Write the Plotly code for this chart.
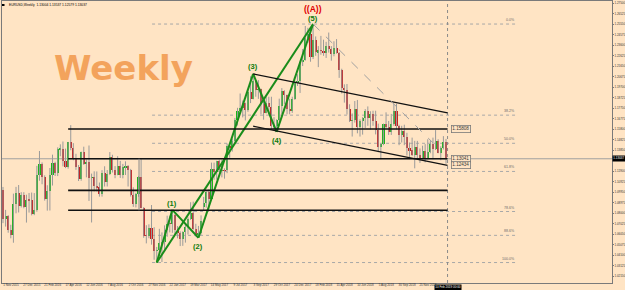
import plotly.graph_objects as go

# ---------------- data (weekly EURUSD, week index 0 = 1 Nov 2015) ----------------
opens = [1.1015,1.0740,1.0772,1.0646,1.0593,1.0886,1.0990,1.0866,1.0968,
         1.0860,1.0925,1.0917,1.0795,1.0830,1.1155,1.1255,1.1130,1.0930,1.1004,
         1.1152,1.1268,1.1167,1.1390,1.1398,1.1283,1.1226,1.1455,1.1403,1.1307,
         1.1225,1.1114,1.1367,1.1252,1.1276,1.1128,1.1134,1.1052,1.1039,1.0977,
         1.1174,1.1087,1.1161,1.1324,1.1198,1.1155,1.1234,1.1153,1.1226,1.1240,
         1.1198,1.0970,1.0885,1.0978,1.1137,1.0850,1.0590,1.0588,1.0665,1.0563,
         1.0450,1.0452,
         1.0520,1.0530,1.0640,1.0700,1.0698,1.0780,1.0640,1.0615,1.0560,1.0620,
         1.0670,1.0740,1.0800,1.0650,1.0593,1.0615,1.0860,1.0895,1.0998,1.0930,
         1.1205,1.1180,1.1280,1.1195,1.1198,1.1195,1.1425,1.1400,1.1470,1.1665,
         1.1750,1.1773,1.1821,1.1760,1.1923,1.1860,1.2030,1.1945,1.1950,1.1810,
         1.1730,1.1820,1.1780,1.1605,1.1610,1.1663,1.1790,1.1932,1.1895,1.1770,
         1.1750,1.1860,1.2005,
         1.2030,1.2200,1.2220,1.2425,1.2460,1.2250,1.2405,1.2295,1.2310,1.2308,
         1.2285,1.2355,1.2320,1.2280,1.2330,1.2290,1.2130,1.1960,1.1940,1.1765,
         1.1655,1.1660,1.1770,1.1600,1.1655,1.1685,1.1745,1.1685,1.1720,1.1655,
         1.1567,1.1410,1.1440,1.1625,1.1600,1.1555,1.1625,1.1745,1.1605,1.1525,
         1.1560,1.1510,1.1400,1.1385,1.1335,1.1415,1.1335,1.1315,1.1380,1.1305,
         1.1370,1.1440,1.1395,1.1470,1.1360,1.1405,1.1455]
highs = [1.1042,1.0829,1.0780,1.0691,1.0980,1.1043,1.1060,1.0993,1.0993,
         1.0970,1.0986,1.0990,1.0985,1.1238,1.1376,1.1270,1.1150,1.1058,1.1218,
         1.1342,1.1276,1.1410,1.1438,1.1464,1.1398,1.1460,1.1616,1.1449,1.1350,
         1.1246,1.1370,1.1416,1.1298,1.1427,1.1166,1.1187,1.1186,1.1083,1.1198,
         1.1234,1.1199,1.1366,1.1341,1.1236,1.1328,1.1284,1.1256,1.1280,1.1245,
         1.1210,1.1039,1.0987,1.1142,1.1300,1.0855,1.0687,1.0695,1.0874,1.0668,
         1.0485,1.0653,
         1.0620,1.0685,1.0775,1.0775,1.0829,1.0790,1.0679,1.0630,1.0630,1.0700,
         1.0760,1.0900,1.0906,1.0700,1.0680,1.0778,1.0950,1.1000,1.1022,1.1268,
         1.1268,1.1285,1.1296,1.1296,1.1215,1.1445,1.1445,1.1490,1.1683,1.1777,
         1.1910,1.1845,1.1825,1.1941,1.2070,1.2092,1.2035,1.2034,1.1955,1.1835,
         1.1880,1.1880,1.1880,1.1690,1.1670,1.1862,1.1960,1.1940,1.1900,1.1862,
         1.1880,1.2030,1.2089,
         1.2215,1.2323,1.2537,1.2520,1.2510,1.2555,1.2440,1.2350,1.2445,1.2410,
         1.2390,1.2476,1.2350,1.2395,1.2415,1.2295,1.2140,1.1995,1.1998,1.1810,
         1.1725,1.1840,1.1850,1.1670,1.1690,1.1765,1.1790,1.1745,1.1750,1.1750,
         1.1630,1.1445,1.1630,1.1735,1.1655,1.1720,1.1815,1.1815,1.1620,1.1610,
         1.1620,1.1545,1.1455,1.1500,1.1470,1.1470,1.1400,1.1425,1.1440,1.1485,
         1.1475,1.1500,1.1570,1.1485,1.1420,1.1514,1.1488]
lows = [1.0706,1.0674,1.0617,1.0565,1.0524,1.0797,1.0805,1.0851,1.0844,
        1.0711,1.0804,1.0778,1.0780,1.0812,1.1100,1.1067,1.0915,1.0822,1.0823,
        1.1055,1.1144,1.1143,1.1327,1.1233,1.1217,1.1212,1.1383,1.1290,1.1201,
        1.1097,1.1100,1.1247,1.1131,1.0912,1.0712,1.1001,1.1001,1.0952,1.0952,
        1.1046,1.1046,1.1152,1.1176,1.1123,1.1151,1.1126,1.1122,1.1153,1.1046,
        1.0953,1.0857,1.0852,1.0951,1.0844,1.0570,1.0518,1.0566,1.0506,1.0366,
        1.0340,1.0398,
        1.0345,1.0454,1.0579,1.0620,1.0616,1.0602,1.0565,1.0493,1.0495,1.0525,
        1.0600,1.0736,1.0645,1.0582,1.0570,1.0600,1.0820,1.0850,1.0838,1.0920,
        1.1109,1.1110,1.1190,1.1131,1.1119,1.1170,1.1313,1.1370,1.1440,1.1612,
        1.1730,1.1688,1.1660,1.1740,1.1821,1.1855,1.1880,1.1860,1.1717,1.1667,
        1.1725,1.1730,1.1575,1.1575,1.1553,1.1652,1.1717,1.1810,1.1717,1.1717,
        1.1730,1.1850,1.1980,
        1.1915,1.2165,1.2215,1.2380,1.2205,1.2230,1.2260,1.2155,1.2270,1.2260,
        1.2240,1.2290,1.2215,1.2255,1.2280,1.2055,1.1910,1.1825,1.1715,1.1645,
        1.1510,1.1640,1.1540,1.1510,1.1528,1.1590,1.1610,1.1575,1.1610,1.1530,
        1.1365,1.1300,1.1430,1.1585,1.1525,1.1525,1.1610,1.1575,1.1430,1.1455,
        1.1430,1.1335,1.1300,1.1330,1.1215,1.1305,1.1265,1.1300,1.1270,1.1300,
        1.1355,1.1300,1.1385,1.1355,1.1290,1.1390,1.1258]
closes = [1.0740,1.0772,1.0646,1.0593,1.0886,1.0990,1.0866,1.0968,1.0860,
          1.0925,1.0917,1.0795,1.0830,1.1155,1.1255,1.1130,1.0930,1.1004,1.1152,
          1.1268,1.1167,1.1390,1.1398,1.1283,1.1226,1.1455,1.1403,1.1307,1.1225,
          1.1114,1.1367,1.1252,1.1276,1.1128,1.1134,1.1052,1.1039,1.0977,1.1174,
          1.1087,1.1161,1.1324,1.1198,1.1155,1.1234,1.1153,1.1226,1.1240,1.1198,
          1.0970,1.0885,1.0978,1.1137,1.0850,1.0590,1.0588,1.0665,1.0563,1.0450,
          1.0452,1.0520,
          1.0530,1.0640,1.0700,1.0698,1.0780,1.0640,1.0615,1.0560,1.0620,1.0670,
          1.0740,1.0800,1.0650,1.0593,1.0615,1.0727,1.0895,1.0998,1.0930,1.1205,
          1.1180,1.1280,1.1195,1.1198,1.1195,1.1425,1.1400,1.1470,1.1665,1.1750,
          1.1773,1.1821,1.1760,1.1923,1.1860,1.2030,1.1945,1.1950,1.1810,1.1730,
          1.1820,1.1780,1.1605,1.1610,1.1663,1.1790,1.1932,1.1895,1.1770,1.1750,
          1.1860,1.2005,1.2030,
          1.2200,1.2220,1.2425,1.2460,1.2250,1.2405,1.2295,1.2310,1.2308,1.2285,
          1.2355,1.2320,1.2280,1.2330,1.2290,1.2130,1.1960,1.1940,1.1765,1.1655,
          1.1660,1.1770,1.1600,1.1655,1.1685,1.1745,1.1685,1.1720,1.1655,1.1567,
          1.1410,1.1440,1.1625,1.1600,1.1555,1.1625,1.1745,1.1605,1.1525,1.1560,
          1.1510,1.1400,1.1385,1.1335,1.1415,1.1335,1.1315,1.1380,1.1305,1.1370,
          1.1440,1.1395,1.1470,1.1360,1.1405,1.1455,1.1304]
week_index = list(range(len(closes)))

x_tick_index = [0, 8, 16, 24, 32, 40, 48, 56, 64, 72, 80, 88, 96, 104, 112, 120, 128, 136, 144, 152, 160]
x_tick_labels = ["1 Nov 2015", "27 Dec 2015", "21 Feb 2016", "17 Apr 2016", "12 Jun 2016",
                 "7 Aug 2016", "2 Oct 2016", "27 Nov 2016", "22 Jan 2017", "19 Mar 2017",
                 "14 May 2017", "9 Jul 2017", "3 Sep 2017", "29 Oct 2017", "24 Dec 2017",
                 "18 Feb 2018", "15 Apr 2018", "10 Jun 2018", "5 Aug 2018", "30 Sep 2018",
                 "25 Nov 2018"]
# the tick hidden under the current-price box is left out
y_tick_values = [1.27500, 1.26525, 1.25550, 1.24575, 1.23600, 1.22625, 1.21650, 1.20675,
                 1.19700, 1.18725, 1.17750, 1.16775, 1.15800, 1.14825, 1.13850,
                 1.11900, 1.10925, 1.09950, 1.08975, 1.08000, 1.07025, 1.06050, 1.05075,
                 1.04100, 1.03125, 1.02150]
y_tick_labels = ["%.5f" % v for v in y_tick_values]

# Elliott wave pivots
wave_index = [59, 65, 75, 96, 105, 119]
wave_price = [1.0340, 1.0829, 1.0570, 1.2092, 1.1553, 1.2555]
wave_names = ["", "(1)", "(2)", "(3)", "(4)", "(5)"]
wave_label_shift = [0, 6, -9, 7, -9, 6]
wave_segments = [(0, 1), (1, 2), (2, 3), (3, 4), (4, 5), (0, 5)]
primary_label = "((A))"

# Fibonacci retracement
fib_high, fib_low = 1.2555, 1.0340
fib_levels = [0.0, 38.2, 50.0, 61.8, 78.6, 88.6, 100.0]
fib_texts = ["0.0%", "38.2%", "50.0%", "61.8%", "78.6%", "88.6%", "100.0%"]
fib_start_idx, fib_end_idx = 57.2, 197.2

# horizontal support / resistance lines
hline_prices = [1.15808, 1.13041, 1.1010, 1.0825]
hline_start_idx, hline_end_idx = 25, 170.6

# channel
chan_idx = [96, 170.6]
chan_upper = [1.2092, 1.17294]
chan_lower = [1.1606, 1.12434]

# dashed line from (5)
dash_idx = [119, 165]
dash_price = [1.2555, 1.1452]

# thin vertical line
vline_idx = 52.2
vline_prices = [1.13041, 1.0825]

price_box_texts = ["1.15808", "1.13041", "1.12434"]
price_box_values = [1.15808, 1.13041, 1.12434]
current_price = 1.13037
cursor_idx = 170.6
cursor_text = "10 Feb 2019 00:00"
title_text = "EURUSD,Weekly  1.13004 1.13537 1.12579 1.13037"

# ---------------- style / layout ----------------
BG = "#FFE4C4"
W, H = 625, 290
ML, MR, MT, MB = 2, 13, 1, 7
x_range = [-0.38, 233.7]
y_range = [1.0150, 1.2769]
UP, DN, WICK = "#1DB31D", "#C81E1E", "#9A9A9A"
GREEN = "#1A8C1A"
FONT = "Liberation Sans"


def paper_x(px):
    return (px - ML) / (W - ML - MR)


def paper_y(py):
    return (H - MB - py) / (H - MT - MB)


fig = go.Figure()

# wicks
wx, wy = [], []
for i in week_index:
    wx += [i, i, None]
    wy += [lows[i], highs[i], None]
fig.add_trace(go.Scatter(x=wx, y=wy, mode="lines", line=dict(color=WICK, width=1),
                         hoverinfo="skip", showlegend=False))
# bodies
body_base = [min(o, c) for o, c in zip(opens, closes)]
body_h = [max(abs(c - o), 0.0004) for o, c in zip(opens, closes)]
body_col = [UP if c >= o else DN for o, c in zip(opens, closes)]
fig.add_trace(go.Bar(x=week_index, y=body_h, base=body_base, width=0.8,
                     marker=dict(color=body_col, line=dict(width=0)), showlegend=False))

shapes = []
# fib levels
for lv in fib_levels:
    p = fib_high - lv / 100.0 * (fib_high - fib_low)
    shapes.append(dict(type="line", xref="x", yref="y", x0=fib_start_idx, x1=fib_end_idx,
                       y0=p, y1=p, line=dict(color="#A8A8A8", width=1, dash="dot"), layer="below"))
# current price line
shapes.append(dict(type="line", xref="paper", yref="y", x0=0, x1=1, y0=current_price,
                   y1=current_price, line=dict(color="#A0A0A0", width=1), layer="below"))
# cursor vertical line
shapes.append(dict(type="line", xref="x", yref="paper", x0=cursor_idx, x1=cursor_idx, y0=0, y1=1,
                   line=dict(color="#8A8A8A", width=1, dash="dot")))
# horizontal black lines
for p in hline_prices:
    shapes.append(dict(type="line", xref="x", yref="y", x0=hline_start_idx, x1=hline_end_idx,
                       y0=p, y1=p, line=dict(color="#111111", width=1.6)))
# thin vertical
shapes.append(dict(type="line", xref="x", yref="y", x0=vline_idx, x1=vline_idx,
                   y0=vline_prices[0], y1=vline_prices[1], line=dict(color="#8A8A8A", width=1)))
# channel
shapes.append(dict(type="line", xref="x", yref="y", x0=chan_idx[0], x1=chan_idx[1],
                   y0=chan_upper[0], y1=chan_upper[1], line=dict(color="#111111", width=1.3)))
shapes.append(dict(type="line", xref="x", yref="y", x0=chan_idx[0], x1=chan_idx[1],
                   y0=chan_lower[0], y1=chan_lower[1], line=dict(color="#111111", width=1.3)))
# dashed
shapes.append(dict(type="line", xref="x", yref="y", x0=dash_idx[0], x1=dash_idx[1],
                   y0=dash_price[0], y1=dash_price[1], line=dict(color="#A0A0A0", width=1, dash="dash")))
# title marker
shapes.append(dict(type="rect", xref="paper", yref="paper", x0=paper_x(2), x1=paper_x(4.5),
                   y0=paper_y(6), y1=paper_y(4), fillcolor="#000000", line=dict(width=0)))

# Elliott wave lines
for a, b in wave_segments:
    fig.add_trace(go.Scatter(x=[wave_index[a], wave_index[b]], y=[wave_price[a], wave_price[b]],
                             mode="lines", line=dict(color=GREEN, width=2), hoverinfo="skip",
                             showlegend=False))

ann = []
for i in range(1, 6):
    ann.append(dict(x=wave_index[i], y=wave_price[i], xref="x", yref="y", text="<b>%s</b>" % wave_names[i],
                    showarrow=False, yshift=wave_label_shift[i],
                    font=dict(family=FONT, size=7.5, color="#0B7A0B")))
ann.append(dict(x=wave_index[5], y=wave_price[5], xref="x", yref="y", text="<b>%s</b>" % primary_label,
                showarrow=False, yshift=15, font=dict(family=FONT, size=8.5, color="#E00000")))

for lv, t in zip(fib_levels, fib_texts):
    p = fib_high - lv / 100.0 * (fib_high - fib_low)
    ann.append(dict(x=fib_end_idx, y=p, xref="x", yref="y", text=t, showarrow=False,
                    xanchor="right", yanchor="bottom", font=dict(family=FONT, size=3.6, color="#6A6A6A")))

for t, p in zip(price_box_texts, price_box_values):
    ann.append(dict(x=hline_end_idx + 1.4, y=p, xref="x", yref="y", text=t, showarrow=False,
                    xanchor="left", yanchor="middle", bgcolor=BG, bordercolor="#7A7A7A",
                    borderwidth=0.8, borderpad=0.5, font=dict(family=FONT, size=4.6, color="#3A3A3A")))

ann.append(dict(x=1.0, y=current_price, xref="paper", yref="y", text="%.5f" % current_price,
                showarrow=False, xanchor="left", yanchor="middle", bgcolor="#000000", borderpad=0.3,
                font=dict(family=FONT, size=3.0, color="#FFFFFF")))
ann.append(dict(x=cursor_idx, y=0, xref="x", yref="paper", text=cursor_text, showarrow=False,
                xanchor="center", yanchor="top", yshift=-0.5, bgcolor="#000000", borderpad=0.3,
                font=dict(family=FONT, size=3.0, color="#FFFFFF")))
ann.append(dict(x=paper_x(7), y=paper_y(5), xref="paper", yref="paper", text=title_text, showarrow=False,
                xanchor="left", yanchor="middle", font=dict(family=FONT, size=3.3, color="#000000")))
ann.append(dict(x=paper_x(123.5), y=paper_y(68), xref="paper", yref="paper", text="<b>Weekly</b>",
                showarrow=False, xanchor="center", yanchor="middle",
                font=dict(family="DejaVu Sans", size=34, color="#F3A35C")))

fig.update_layout(
    width=W, height=H, autosize=False,
    margin=dict(l=ML, r=MR, t=MT, b=MB, pad=0),
    paper_bgcolor=BG, plot_bgcolor=BG,
    showlegend=False, bargap=0,
    shapes=shapes, annotations=ann,
    xaxis=dict(range=x_range, tickvals=x_tick_index, ticktext=x_tick_labels,
               ticklabelshift=8, ticklabelstandoff=-2,
               tickfont=dict(family=FONT, size=3.0, color="#333333"),
               ticks="", showgrid=False, zeroline=False,
               showline=True, linecolor="#7A7A7A", linewidth=1, mirror=True, automargin=False,
               fixedrange=True),
    yaxis=dict(range=y_range, side="right", tickvals=y_tick_values, ticktext=y_tick_labels,
               tickfont=dict(family=FONT, size=2.9, color="#333333"),
               ticks="outside", ticklen=1, tickcolor="#7A7A7A", showgrid=False, zeroline=False,
               showline=True, linecolor="#7A7A7A", linewidth=1, mirror=True, automargin=False,
               fixedrange=True),
)

fig.write_html("out.html")
